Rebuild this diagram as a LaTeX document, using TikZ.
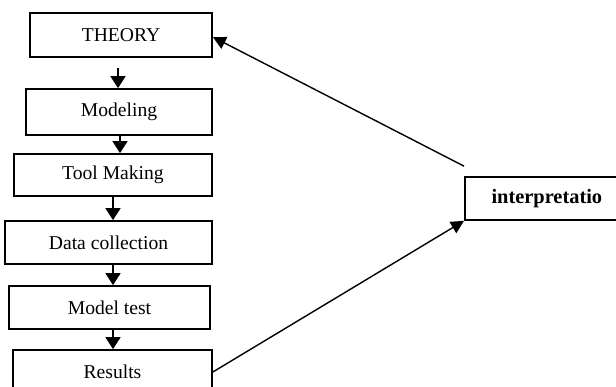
\documentclass[tikz,border=0pt]{standalone}
\usepackage{fontspec}
\setmainfont{Liberation Serif}
\usetikzlibrary{arrows.meta, positioning}

\begin{document}
\begin{tikzpicture}[
    x=1pt, y=-1pt,
    stage/.style={draw, line width=1.7pt, rectangle, inner sep=0pt, font=\fontsize{19.6}{23}\selectfont},
    flow/.style={line width=1.5pt, -{Triangle[length=12pt, width=15pt]}},
    back/.style={line width=1.4pt, -{Triangle[length=13pt, width=13pt]}}
]
\useasboundingbox (0,0) rectangle (616,387);

% Nodes
\node[stage, minimum width=182pt, minimum height=44pt] (theory) at (121, 35) {THEORY};
\node[stage, minimum width=186pt, minimum height=46pt] (modeling) at (119, 112) {Modeling};
\node[stage, minimum width=198pt, minimum height=42pt] (tool) at (113, 175) {Tool Making};
\node[stage, minimum width=207pt, minimum height=43pt] (data) at (108.5, 242.5) {Data collection};
\node[stage, minimum width=201pt, minimum height=43pt] (test) at (109.5, 307.5) {Model test};
\node[stage, minimum width=199pt, minimum height=44pt] (results) at (112.5, 372) {Results};

% box runs past the right edge
\node[stage, font=\fontsize{20.4}{24}\selectfont\bfseries, minimum height=43pt, anchor=west] (interp) at (464, 198.5) {\makebox[164pt]{interpretatio}\hspace{40pt}};

% Steps
\draw[flow, shorten <=10pt] (theory.south -| 118,0) -- (modeling.north -| 118,0);
\draw[flow] (modeling.south -| 120,0) -- (tool.north -| 120,0);
\draw[flow] (tool.south -| 113,0) -- (data.north -| 113,0);
\draw[flow] (data.south -| 113,0) -- (test.north -| 113,0);
\draw[flow] (test.south -| 113,0) -- (results.north -| 113,0);

% Feedback
\draw[back] (results.east) -- (interp.south west);
\draw[back] ([yshift=10pt]interp.north west) -- ([yshift=-2pt]theory.east);

\end{tikzpicture}
\end{document}
